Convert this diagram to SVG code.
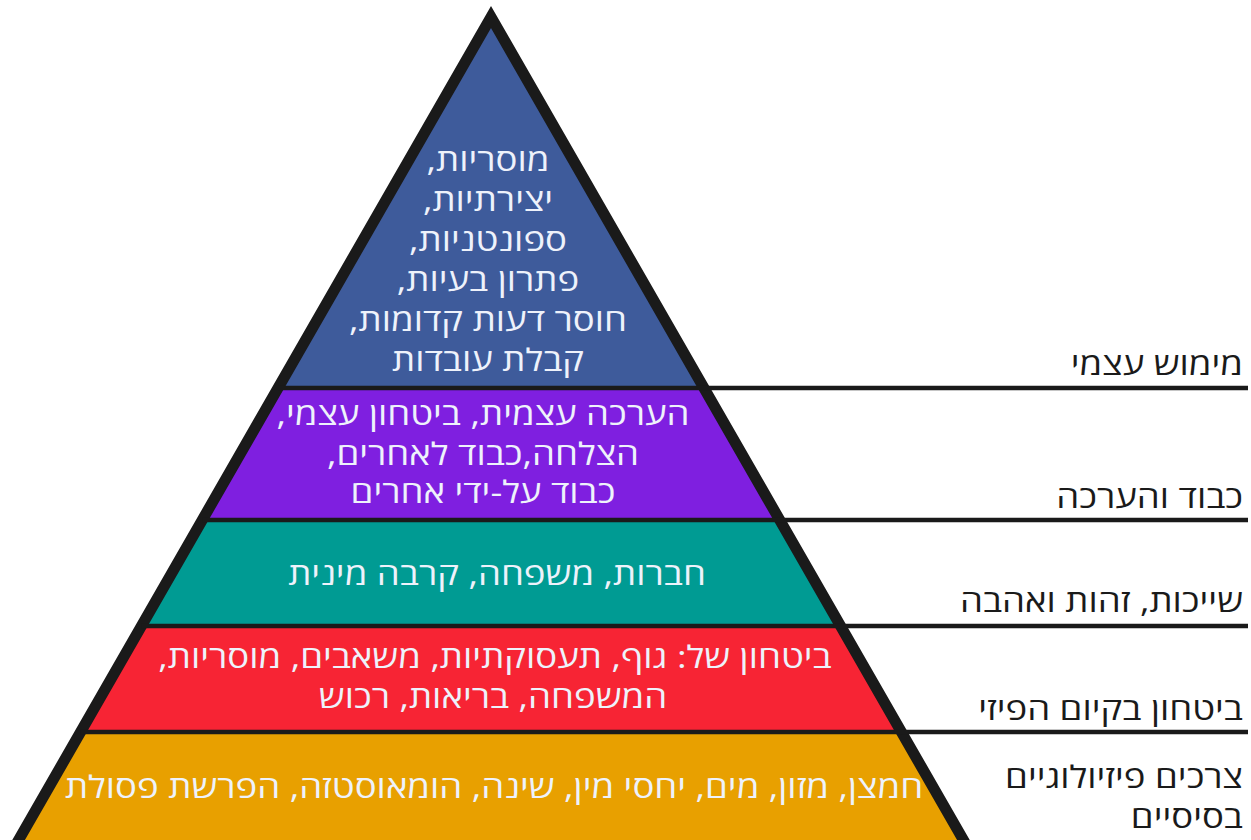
<svg xmlns="http://www.w3.org/2000/svg" width="1251" height="840" viewBox="0 0 1251 840">
<style>
.band{stroke:none}
.in{font-family:"Open Sans","DejaVu Sans",sans-serif;font-size:31px;fill:#eef2fb;text-anchor:middle;direction:rtl}
.lbl{font-family:"Open Sans","DejaVu Sans",sans-serif;font-size:31px;fill:#1a1a1a;text-anchor:start;direction:rtl}
.div{stroke:#1a1a1a;stroke-width:4.5;fill:none}
</style>
<rect width="1251" height="840" fill="#ffffff"/>
<g id="level5">
<polygon class="band" fill="#3e5b9b" points="491,17 704,388 278,388"/>
<text class="in" transform="translate(488,171) scale(1.18,1)">מוסריות,</text>
<text class="in" transform="translate(488,211) scale(1.18,1)">יצירתיות,</text>
<text class="in" transform="translate(488,251) scale(1.18,1)">ספונטניות,</text>
<text class="in" transform="translate(488,291) scale(1.18,1)">פתרון בעיות,</text>
<text class="in" transform="translate(488,331) scale(1.18,1)">חוסר דעות קדומות,</text>
<text class="in" transform="translate(488,371) scale(1.18,1)">קבלת עובדות</text>
</g>
<g id="level4">
<polygon class="band" fill="#7f1fe0" points="278,388 704,388 779.7,520 202.3,520"/>
<text class="in" transform="translate(483,425) scale(1.18,1)">הערכה עצמית, ביטחון עצמי,</text>
<text class="in" transform="translate(483,465) scale(1.18,1)">הצלחה,כבוד לאחרים,</text>
<text class="in" transform="translate(483,503) scale(1.18,1)">כבוד על-ידי אחרים</text>
</g>
<g id="level3">
<polygon class="band" fill="#009b93" points="202.3,520 779.7,520 840.6,626 141.4,626"/>
<text class="in" transform="translate(497,585) scale(1.18,1)">חברות, משפחה, קרבה מינית</text>
</g>
<g id="level2">
<polygon class="band" fill="#f72434" points="141.4,626 840.6,626 901.4,732 80.6,732"/>
<text class="in" transform="translate(495,668) scale(1.18,1)">ביטחון של: גוף, תעסוקתיות, משאבים, מוסריות,</text>
<text class="in" transform="translate(493,708) scale(1.18,1)">המשפחה, בריאות, רכוש</text>
</g>
<g id="level1">
<polygon class="band" fill="#e8a000" points="80.6,732 901.4,732 970.3,852 11.7,852"/>
<text class="in" transform="translate(494,798) scale(1.18,1)">חמצן, מזון, מים, יחסי מין, שינה, הומאוסטזה, הפרשת פסולת</text>
</g>
<g id="outline">
<polygon points="491,17 970.3,852 11.7,852" fill="none" stroke="#1a1a1a" stroke-width="11" stroke-linejoin="miter" stroke-miterlimit="10"/>
</g>
<g id="connectors">
<line class="div" x1="278" y1="388" x2="1248" y2="388"/>
<line class="div" x1="202.3" y1="520" x2="1248" y2="520"/>
<line class="div" x1="141.4" y1="626" x2="1248" y2="626"/>
<line class="div" x1="80.6" y1="732" x2="1248" y2="732"/>
</g>
<g id="labels">
<text class="lbl" transform="translate(1243,375) scale(1.18,1)">מימוש עצמי</text>
<text class="lbl" transform="translate(1243,508) scale(1.18,1)">כבוד והערכה</text>
<text class="lbl" transform="translate(1243,612) scale(1.18,1)">שייכות, זהות ואהבה</text>
<text class="lbl" transform="translate(1243,720) scale(1.18,1)">ביטחון בקיום הפיזי</text>
<text class="lbl" transform="translate(1243,788) scale(1.18,1)">צרכים פיזיולוגיים</text>
<text class="lbl" transform="translate(1243,828) scale(1.18,1)">בסיסיים</text>
</g>
</svg>
